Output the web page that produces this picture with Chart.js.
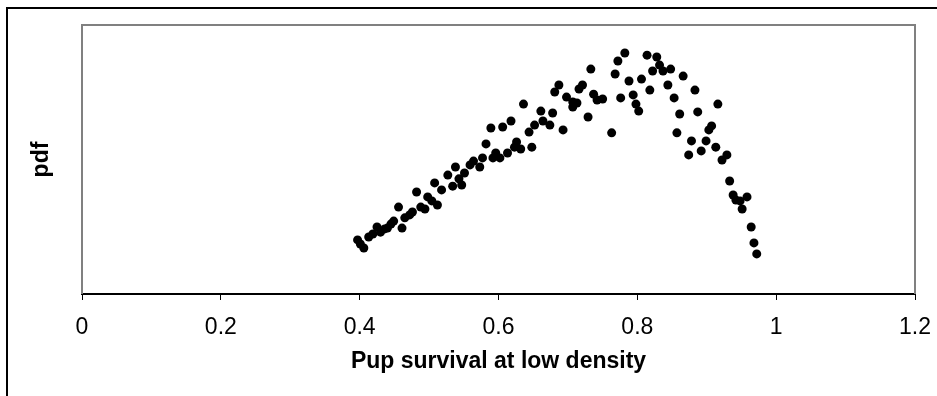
<!DOCTYPE html>
<html>
<head>
<meta charset="utf-8">
<script src="https://cdn.jsdelivr.net/npm/chart.js@4/dist/chart.umd.min.js"></script>
<style>
  html, body { margin:0; padding:0; background:#fff; }
  #wrap { position:relative; width:937px; height:396px; overflow:hidden; }
  #frame { position:absolute; left:6px; top:7px; width:960px; height:420px; border:2px solid #000; pointer-events:none; }
  canvas { position:absolute; left:0; top:0; }
</style>
</head>
<body>
<div id="wrap">
  <canvas id="chart" width="937" height="396"></canvas>
  <div id="frame"></div>
</div>
<script>
// pup survival at low density (x) vs pdf (y, arbitrary units)
const survival = [
  0.397,0.401,0.406,0.413,0.419,0.425,0.430,0.436,0.440,0.445,
  0.449,0.456,0.461,0.465,0.472,0.476,0.482,0.488,0.494,0.498,
  0.504,0.512,0.508,0.518,0.527,0.534,0.538,0.543,0.547,0.551,
  0.559,0.564,0.573,0.577,0.582,0.589,0.592,0.596,0.602,0.606,
  0.613,0.618,0.623,0.626,0.632,0.636,0.644,0.648,0.652,0.661,
  0.664,0.674,0.678,0.681,0.687,0.693,0.698,0.707,0.713,0.707,
  0.716,0.721,0.729,0.733,0.737,0.742,0.750,0.763,0.768,0.772,
  0.776,0.782,0.788,0.794,0.798,0.802,0.806,0.814,0.818,0.828,
  0.832,0.822,0.837,0.848,0.844,0.853,0.857,0.861,0.866,0.878,
  0.883,0.887,0.899,0.892,0.874,0.903,0.907,0.913,0.916,0.929,
  0.922,0.933,0.938,0.942,0.948,0.958,0.951,0.964,0.968,0.972
];
const pdf = [
  0.201,0.186,0.171,0.212,0.223,0.249,0.230,0.242,0.245,0.260,
  0.271,0.323,0.245,0.283,0.294,0.305,0.379,0.323,0.316,0.361,
  0.346,0.331,0.413,0.387,0.442,0.401,0.472,0.428,0.405,0.450,
  0.480,0.494,0.472,0.506,0.558,0.617,0.506,0.524,0.506,0.621,
  0.524,0.643,0.546,0.565,0.539,0.706,0.602,0.546,0.628,0.680,
  0.643,0.628,0.673,0.751,0.777,0.610,0.732,0.714,0.710,0.695,
  0.762,0.777,0.658,0.836,0.743,0.721,0.725,0.599,0.818,0.866,
  0.729,0.896,0.792,0.740,0.706,0.680,0.799,0.888,0.758,0.881,
  0.851,0.829,0.829,0.836,0.777,0.729,0.599,0.669,0.810,0.569,
  0.758,0.677,0.569,0.532,0.517,0.610,0.625,0.546,0.706,0.517,
  0.498,0.420,0.368,0.349,0.346,0.361,0.316,0.249,0.190,0.149
];
const xTicks = [0, 0.2, 0.4, 0.6, 0.8, 1, 1.2];
const xTickLabels = ['0', '0.2', '0.4', '0.6', '0.8', '1', '1.2'];

const FONT = 'Liberation Sans, Arial, sans-serif';

const plotBorder = {
  id:'plotBorder',
  beforeDatasetsDraw(chart){
    const {ctx, chartArea:a} = chart;
    ctx.save();
    ctx.strokeStyle = '#808080';
    ctx.lineWidth = 2;
    ctx.beginPath();
    ctx.moveTo(a.left, a.bottom);
    ctx.lineTo(a.left, a.top);
    ctx.lineTo(a.right, a.top);
    ctx.lineTo(a.right, a.bottom);
    ctx.stroke();
    ctx.restore();
  }
};

new Chart(document.getElementById('chart'), {
  type:'scatter',
  data:{
    datasets:[{
      data: survival.map((x,i)=>({x, y:pdf[i]})),
      backgroundColor:'#000',
      borderWidth:0,
      pointRadius:4.5,
      pointHoverRadius:4.5
    }]
  },
  options:{
    responsive:false,
    animation:false,
    events:[],
    layout:{ padding:{ left:0, top:25, right:22, bottom:0 } },
    plugins:{ legend:{display:false}, tooltip:{enabled:false} },
    scales:{
      x:{
        type:'linear', min:0, max:1.2,
        afterBuildTicks(s){ s.ticks = xTicks.map(v=>({value:v})); },
        afterFit(s){ s.height = 102; s.paddingLeft = 0; s.paddingRight = 0; },
        grid:{ display:true, drawOnChartArea:false, drawTicks:true, tickLength:6, color:'#000', lineWidth:1 },
        border:{ display:true, color:'#000', width:2 },
        ticks:{
          color:'#000', padding:14, maxRotation:0, autoSkip:false,
          font:{ family:FONT, size:23 },
          callback:(v, i)=>xTickLabels[i]
        },
        title:{ display:true, text:'Pup survival at low density', color:'#000', padding:{top:0, bottom:21}, font:{ family:FONT, size:23, weight:'bold' } }
      },
      y:{
        type:'linear', min:0, max:1,
        afterFit(s){ s.width = 82; },
        grid:{ display:false },
        border:{ display:false },
        ticks:{ display:false },
        title:{ display:true, text:'pdf', color:'#000', padding:{top:28, bottom:0}, font:{ family:FONT, size:23, weight:'bold' } }
      }
    }
  },
  plugins:[plotBorder]
});
</script>
</body>
</html>
